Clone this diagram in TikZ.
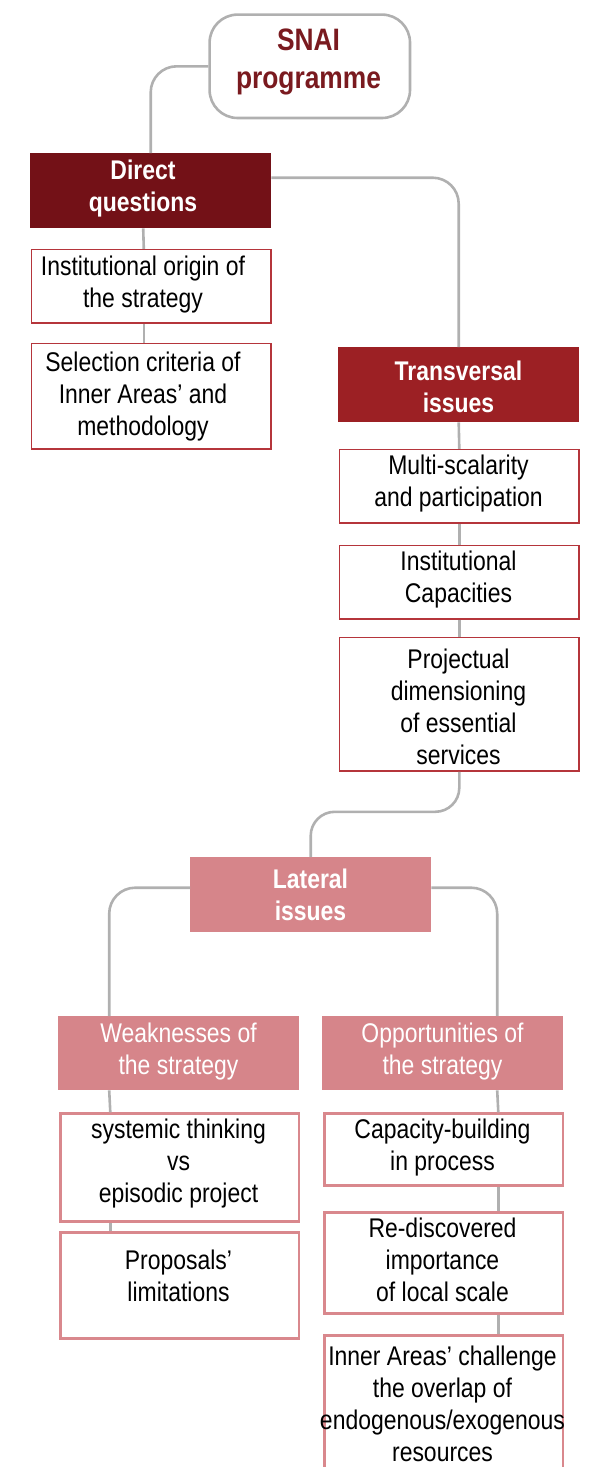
\documentclass[tikz,border=0pt]{standalone}
\usepackage{fontspec}
\setmainfont{Liberation Sans}[FakeStretch=0.85]
\definecolor{dqred}{HTML}{731117}
\definecolor{trred}{HTML}{9C2024}
\definecolor{pinkfill}{HTML}{D6858A}
\definecolor{snaitext}{HTML}{7A1A1F}
\definecolor{redline}{HTML}{B5353B}
\definecolor{pinkline}{HTML}{D9888D}
\definecolor{linegray}{HTML}{B0B0B0}
\begin{document}
\begin{tikzpicture}[x=1pt,y=-1pt,
  conn/.style={draw=linegray, line width=2.6pt, rounded corners=26pt},
  box/.style={rectangle, inner sep=0pt, anchor=north west, minimum width=241pt},
  darkbox/.style={box, fill=dqred},
  midbox/.style={box, fill=trred},
  pinkbox/.style={box, fill=pinkfill},
  redframe/.style={box, draw=redline, line width=1.6pt, fill=white,
                   minimum width=239.4pt, xshift=0.8pt, yshift=-0.8pt},
  pinkframe/.style={box, draw=pinkline, line width=2.6pt, fill=white,
                    minimum width=238.4pt, xshift=1.3pt, yshift=-1.3pt},
  txt/.style={align=center, inner sep=0pt, font=\fontsize{27}{32}\selectfont},
  headtxt/.style={txt, text=white, font=\fontsize{27}{32}\selectfont\bfseries},
  softtxt/.style={txt, text=white}
]
\useasboundingbox (0,0) rectangle (596,1467);
\clip (0,0) rectangle (596,1467);

% root
\node[box, minimum width=200.4pt, minimum height=103.4pt, draw=linegray,
      line width=2.6pt, rounded corners=28pt, xshift=1.3pt, yshift=-1.3pt] (snai) at (207,12) {};
\node[txt, text=snaitext, font=\fontsize{31}{38}\selectfont\bfseries] (snait) at (308.5,62) {SNAI\\programme};

% direct questions column
\node[darkbox, minimum height=75pt] (dq) at (30,153) {};
\node[redframe, minimum height=73.4pt] (io) at (30,248) {};
\node[redframe, minimum height=105.4pt] (sc) at (30,342) {};

% transversal issues column
\node[midbox, minimum height=75pt] (tr) at (338,347) {};
\node[redframe, minimum height=73.4pt] (ms) at (338,448) {};
\node[redframe, minimum height=73.4pt] (ic) at (338,544) {};
\node[redframe, minimum height=133.4pt] (pd) at (338,636) {};

% lateral issues
\node[pinkbox, minimum height=75pt] (lat) at (190,857) {};
\node[pinkbox, minimum height=74pt] (wk) at (58,1016) {};
\node[pinkbox, minimum height=74pt] (op) at (322,1016) {};
\node[pinkframe, minimum height=108pt] (st) at (58,1111) {};
\node[pinkframe, minimum height=106pt] (pl) at (58,1230) {};
\node[pinkframe, minimum height=72pt] (cb) at (322,1111) {};
\node[pinkframe, minimum height=101pt] (rd) at (322,1210) {};
\node[pinkframe, minimum height=170pt] (ia) at (322,1333) {};

% labels
\node[headtxt] (dqt) at (143,189) {Direct\\questions};
\node[txt] (iot) at (143,285) {Institutional origin of\\the strategy};
\node[txt] (sct) at (143,397) {Selection criteria of\\Inner Areas’ and\\methodology};
\node[headtxt] (trt) at (458.5,387) {Transversal\\issues};
\node[txt] (mst) at (458.5,484) {Multi-scalarity\\and participation};
\node[txt] (ict) at (458.5,580) {Institutional\\Capacities};
\node[txt] (pdt) at (458.5,707) {Projectual\\dimensioning\\of essential\\services};
\node[headtxt] (latt) at (310.5,895) {Lateral\\issues};
\node[softtxt] (wkt) at (178.5,1052) {Weaknesses of\\the strategy};
\node[softtxt] (opt) at (442.5,1052) {Opportunities of\\the strategy};
\node[txt] (stt) at (178.5,1164) {systemic thinking\\vs\\episodic project};
\node[txt] (plt) at (178.5,1276) {Proposals’\\limitations};
\node[txt] (cbt) at (442.5,1148) {Capacity-building\\in process};
\node[txt] (rdt) at (442.5,1260) {Re-discovered\\importance\\of local scale};
\node[txt] (iat) at (442.5,1404) {Inner Areas’ challenge\\the overlap of\\endogenous/exogenous\\resources};

% connectors
\draw[conn] (snai.west) -| (dq.north);
\draw[conn] ([yshift=13pt]dq.east) -| (tr.north);
\draw[conn] ([xshift=-7.5pt]dq.south) -- ([xshift=-7.5pt]io.north);
\draw[conn] ([xshift=-7.5pt]io.south) -- ([xshift=-7.5pt]sc.north);
\draw[conn] (tr.south) -- (ms.north);
\draw[conn] (ms.south) -- (ic.north);
\draw[conn] (ic.south) -- (pd.north);
\draw[conn, rounded corners=24pt] (pd.south) -- ++(0,40) -| (lat.north);
\draw[conn] ([yshift=7pt]lat.west) -| ([xshift=-69.5pt]wk.north);
\draw[conn] ([yshift=7pt]lat.east) -| ([xshift=54.5pt]op.north);
\draw[conn] ([xshift=-69.5pt]wk.south) -- ([xshift=-69.5pt]st.north);
\draw[conn] ([xshift=-69.5pt]st.south) -- ([xshift=-69.5pt]pl.north);
\draw[conn] ([xshift=54.5pt]op.south) -- ([xshift=54.5pt]cb.north);
\draw[conn] ([xshift=54.5pt]cb.south) -- ([xshift=54.5pt]rd.north);
\draw[conn] ([xshift=54.5pt]rd.south) -- ([xshift=54.5pt]ia.north);
\end{tikzpicture}
\end{document}
